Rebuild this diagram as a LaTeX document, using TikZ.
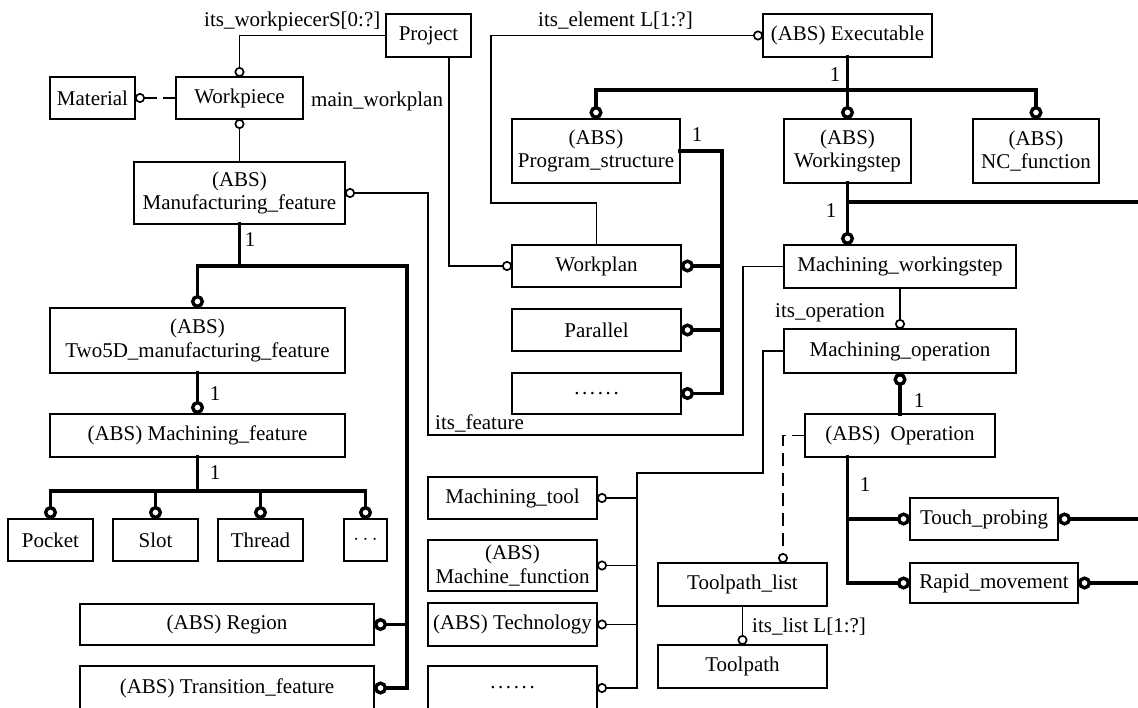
\documentclass[tikz,border=0pt]{standalone}
\usepackage{fontspec}
\setmainfont{Liberation Serif}
\usetikzlibrary{arrows.meta}
\newcommand{\fsz}{\fontsize{21}{23.5}\selectfont}
\newcommand{\sixdots}{.\hspace{2.6pt}.\hspace{2.6pt}.\hspace{2.6pt}.\hspace{2.6pt}.\hspace{2.6pt}.}
\newcommand{\mkbox}[6]{\node[ebx, minimum width={(#4-#2)*1pt}, minimum height={(#5-#3)*1pt}] (#1) at ({(#2+#4)/2},{(#3+#5)/2}) {#6};}
\begin{document}
\begin{tikzpicture}[x=1pt,y=-1pt,
  ebx/.style={draw, line width=1.8pt, inner sep=2pt, outer sep=0pt, font=\fsz, align=center},
  thn/.style={line width=1.7pt, line cap=rect},
  thk/.style={line width=3.4pt, line cap=rect},
  thnc/.style={thn, -{Circle[open,length=10pt,width=10pt]}},
  thkc/.style={thk, -{Circle[open,length=13pt,width=13pt]}},
  dsh/.style={dash pattern=on 12pt off 8pt},
  lbl/.style={font=\fsz, inner sep=0pt}]
\useasboundingbox (0,0) rectangle (1138,708);
\clip (0,0) rectangle (1138,708);
\fill[white] (0,0) rectangle (1138,708);
% boxes
\mkbox{project}{386}{14}{471}{57}{Project}
\mkbox{exe}{763}{14}{932}{57}{(ABS) Executable}
\mkbox{mat}{50}{77}{135}{119}{Material}
\mkbox{wpc}{176}{77}{303}{119}{Workpiece}
\mkbox{pst}{512}{119}{680}{183}{(ABS)\\Program\_structure}
\mkbox{wst}{784}{119}{911}{183}{(ABS)\\Workingstep}
\mkbox{ncf}{973}{119}{1099}{183}{(ABS)\\NC\_function}
\mkbox{mff}{134}{162}{345}{224}{(ABS)\\Manufacturing\_feature}
\mkbox{wpl}{512}{245}{681}{287}{Workplan}
\mkbox{mws}{784}{245}{1016}{288}{Machining\_workingstep}
\mkbox{par}{512}{309}{681}{351}{Parallel}
\mkbox{two}{50}{308}{345}{373}{(ABS)\\Two5D\_manufacturing\_feature}
\mkbox{mop}{784}{329}{1016}{373}{Machining\_operation}
\mkbox{dta}{512}{373}{681}{414}{\sixdots}
\mkbox{mfe}{50}{414}{345}{457}{(ABS) Machining\_feature}
\mkbox{opr}{805}{414}{995}{457}{(ABS)~~Operation}
\mkbox{poc}{8}{519}{93}{561}{Pocket}
\mkbox{slo}{113}{519}{198}{561}{Slot}
\mkbox{thr}{218}{519}{303}{561}{Thread}
\mkbox{dtb}{344}{519}{387}{561}{$\cdots$}
\mkbox{mtl}{428}{477}{597}{519}{Machining\_tool}
\mkbox{tpr}{910}{498}{1058}{540}{Touch\_probing}
\mkbox{mfn}{428}{540}{597}{591}{(ABS)\\Machine\_function}
\mkbox{tpl}{658}{563}{827}{606}{Toolpath\_list}
\mkbox{rmv}{910}{563}{1078}{603}{Rapid\_movement}
\mkbox{reg}{80}{604}{374}{645}{(ABS) Region}
\mkbox{tec}{428}{603}{597}{646}{(ABS) Technology}
\mkbox{tph}{658}{645}{827}{688}{Toolpath}
\mkbox{trn}{80}{666}{374}{710}{(ABS) Transition\_feature}
\mkbox{dtc}{428}{666}{597}{710}{\sixdots}
% labels
\node[lbl, anchor=base west] (l1) at (204,27) {its\_workpiecerS[0:?]};
\node[lbl, anchor=base west] (l2) at (311,107) {main\_workplan};
\node[lbl, anchor=base west] (l3) at (538,27) {its\_element L[1:?]};
\node[lbl, anchor=base west] (l4) at (435,429) {its\_feature};
\node[lbl, anchor=base west] (l5) at (775,318) {its\_operation};
\node[lbl, anchor=base west] (l6) at (752,632) {its\_list L[1:?]};
\node[lbl] (n1) at (250,240) {1};
\node[lbl] (n2) at (697,135) {1};
\node[lbl] (n3) at (835,75) {1};
\node[lbl] (n4) at (831,211) {1};
\node[lbl] (n5) at (215,394) {1};
\node[lbl] (n6) at (215,473) {1};
\node[lbl] (n7) at (919,401) {1};
\node[lbl] (n8) at (865,485) {1};
% thin connectors
\draw[thnc] (project.west) -| (wpc.north);
\draw[thnc,dsh] (wpc.west) -- (mat.east);
\draw[thnc] (mff.north) -- (wpc.south);
\draw[thnc] ([xshift=-22pt]project.south east) |- (wpl.west);
\coordinate (e1) at (491,203);
\draw[thnc] (wpl.north) |- (e1) |- (exe.west);
\coordinate (f1) at (743,435);
\coordinate (f2) at (428,435);
\draw[thnc] (mws.west) -| (f1) -- (f2) |- (mff.east);
\draw[thnc] (mws.south) -- (mop.north);
\coordinate (t1) at (763,473);
\coordinate (tb) at (637,473);
\draw[thn] (mop.west) -| (t1) -- (tb) -- (tb |- dtc.east);
\foreach \b in {mtl,mfn,tec,dtc} \draw[thnc] (tb |- \b.east) -- (\b.east);
\coordinate (d1) at (783,436);
\draw[thnc,dsh] (opr.west) -| (d1 |- tpl.north);
\draw[thnc] (tpl.south) -- (tph.north);
% thick connectors
\coordinate (exb) at (847.5,90);
\draw[thkc] (exe.south) -- (wst.north);
\draw[thkc] (exb) -| (pst.north);
\draw[thkc] (exb) -| (ncf.north);
\coordinate (psb) at (722,151);
\draw[thk] (pst.east) -- (psb) -- (psb |- dta.east);
\foreach \b in {wpl,par,dta} \draw[thkc] (psb |- \b.east) -- (\b.east);
\coordinate (wsr) at (1145,202);
\draw[thkc] (wst.south) -- (wst.south |- mws.north);
\draw[thk] (wst.south |- wsr) -- (wsr);
\coordinate (mfb) at (239.5,266);
\coordinate (mfr) at (407,266);
\draw[thk] (mff.south) -- (mfb);
\draw[thk] (two.north |- mfb) -- (mfr) -- (mfr |- trn.east);
\draw[thkc] (two.north |- mfb) -- (two.north);
\foreach \b in {reg,trn} \draw[thkc] (mfr |- \b.east) -- (\b.east);
\draw[thkc] (two.south) -- (mfe.north);
\coordinate (mb) at (197.5,491);
\draw[thk] (mfe.south) -- (mb);
\draw[thk] (poc.north |- mb) -- (dtb.north |- mb);
\foreach \b in {poc,slo,thr,dtb} \draw[thkc] (\b.north |- mb) -- (\b.north);
\draw[thkc] (opr.north) -- (mop.south);
\coordinate (ob) at (847.5,583);
\draw[thkc] (opr.south -| ob) |- (rmv.west);
\draw[thkc] (ob |- tpr.west) -- (tpr.west);
\coordinate (r1) at (1145,519);
\coordinate (r2) at (1145,583);
\draw[thkc] (r1) -- (tpr.east);
\draw[thkc] (r2) -- (rmv.east);
\end{tikzpicture}
\end{document}
